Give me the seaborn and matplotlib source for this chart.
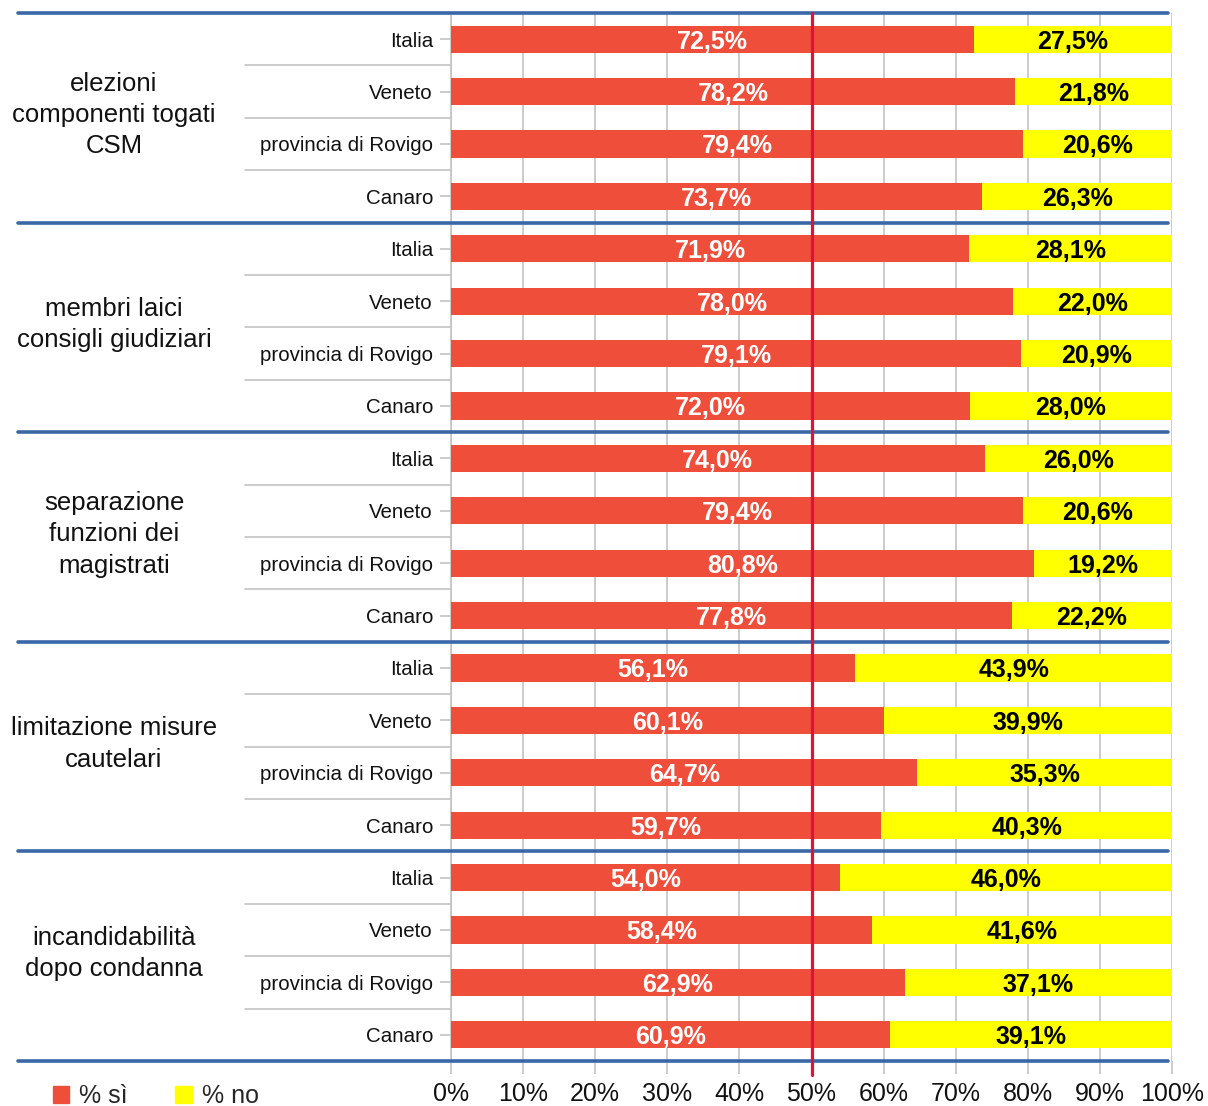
import numpy as np
import pandas as pd
import seaborn as sns
import matplotlib.pyplot as plt
from matplotlib.lines import Line2D
from matplotlib.patches import Patch
from matplotlib.transforms import blended_transform_factory

groups = ["elezioni\ncomponenti togati\nCSM",
          "membri laici\nconsigli giudiziari",
          "separazione\nfunzioni dei\nmagistrati",
          "limitazione misure\ncautelari",
          "incandidabilità\ndopo condanna"]
areas = ["Italia", "Veneto", "provincia di Rovigo", "Canaro"]

si = [72.5, 78.2, 79.4, 73.7,
      71.9, 78.0, 79.1, 72.0,
      74.0, 79.4, 80.8, 77.8,
      56.1, 60.1, 64.7, 59.7,
      54.0, 58.4, 62.9, 60.9]
no = [27.5, 21.8, 20.6, 26.3,
      28.1, 22.0, 20.9, 28.0,
      26.0, 20.6, 19.2, 22.2,
      43.9, 39.9, 35.3, 40.3,
      46.0, 41.6, 37.1, 39.1]

xticks = [0, 10, 20, 30, 40, 50, 60, 70, 80, 90, 100]

rows = []
for gi, g in enumerate(groups):
    for ai, a in enumerate(areas):
        k = gi * 4 + ai
        rows.append({"row": k, "gruppo": g, "area": a, "si": si[k], "no": no[k]})
df = pd.DataFrame(rows)
df["tot"] = df["si"] + df["no"]

sns.set_style("white")
plt.rcParams["font.family"] = ["Liberation Sans", "DejaVu Sans"]

red = "#EF4E3A"
yellow = "#FFFF00"
blue = "#3A67A6"
grey = "#C4C4C4"

W, H = 1208, 1106
fig = plt.figure(figsize=(W / 100, H / 100), dpi=100)
ax = fig.add_axes([451 / W, 1 - 1061 / H, (1172 - 451) / W, (1061 - 13) / H])

# stacked: full bar in yellow, then the "si" part in red on top
sns.barplot(data=df, x="tot", y="row", orient="h", color=yellow, saturation=1,
            width=0.52, errorbar=None, linewidth=0, ax=ax, zorder=2)
sns.barplot(data=df, x="si", y="row", orient="h", color=red, saturation=1,
            width=0.52, errorbar=None, linewidth=0, ax=ax, zorder=3)

for k in range(len(si)):
    ax.text(si[k] / 2, k, f"{si[k]:.1f}%".replace(".", ","), ha="center",
            va="center_baseline", color="white", fontsize=18, fontweight="bold", zorder=4)
    ax.text(si[k] + no[k] / 2, k, f"{no[k]:.1f}%".replace(".", ","), ha="center",
            va="center_baseline", color="black", fontsize=18, fontweight="bold", zorder=4)

ax.set_xlim(0, 100)
ax.set_ylim(len(si) - 0.5, -0.5)
ax.set_xticks(xticks)
ax.set_xticklabels([f"{v}%" for v in xticks])
ax.set_yticks(range(len(si)))
ax.set_yticklabels(df["area"])
ax.set_xlabel("")
ax.set_ylabel("")
ax.grid(axis="x", color=grey, lw=1.2, zorder=0)
ax.grid(axis="y", visible=False)
for s in ["top", "bottom", "right"]:
    ax.spines[s].set_visible(False)
ax.spines["left"].set_color(grey)
ax.spines["left"].set_linewidth(1.2)

ax.tick_params(axis="y", left=True, length=8, width=1.2, color=grey, pad=5,
               labelsize=14.8, labelcolor="#111111")
ax.tick_params(axis="x", bottom=True, length=9, width=1.2, color=grey, pad=6,
               labelsize=18, labelcolor="#111111")
for lbl in ax.get_xticklabels():
    lbl.set_fontfamily(["Liberation Sans Narrow", "Liberation Sans"])

# group separators and labels
tr = blended_transform_factory(fig.transFigure, ax.transData)
for gi in range(len(groups) + 1):
    yb = gi * 4 - 0.5
    ax.add_line(Line2D([18 / W, 1168 / W], [yb, yb], transform=tr, color=blue,
                       lw=2.6, clip_on=False, zorder=6))
for gi, g in enumerate(groups):
    for j in range(3):
        yb = gi * 4 + j + 0.5
        ax.add_line(Line2D([245 / W, 451 / W], [yb, yb], transform=tr, color=grey,
                           lw=1.2, clip_on=False, zorder=1))
    ax.text(114 / W, gi * 4 + 1.45, g, transform=tr, ha="center", va="center",
            fontsize=18.5, linespacing=1.38, color="#111111")

# 50% reference line
tr2 = blended_transform_factory(ax.transData, ax.transAxes)
ax.add_line(Line2D([50, 50], [-14 / 1048, 1.0], transform=tr2, color="#DC143C",
                   lw=2.3, clip_on=False, zorder=7))

fig.legend(handles=[Patch(color=red, label="% sì"), Patch(color=yellow, label="% no")],
           loc="center left", bbox_to_anchor=(53 / W, 1 - 1096 / H), ncol=2,
           frameon=False, fontsize=18, handlelength=0.65, handleheight=0.65,
           handletextpad=0.4, columnspacing=1.9, borderpad=0, borderaxespad=0)

fig.savefig("out.png", dpi=100)
